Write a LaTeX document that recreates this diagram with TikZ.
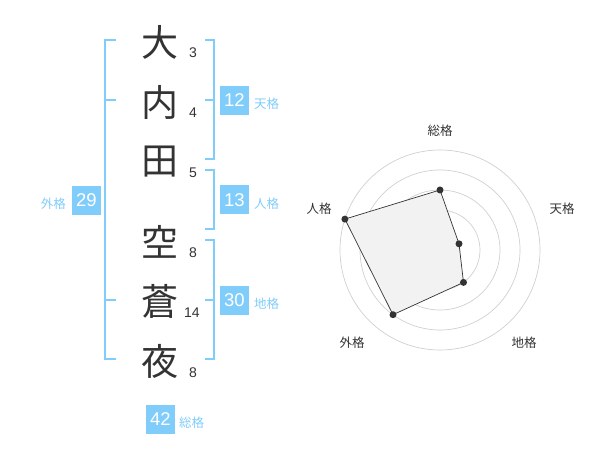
\documentclass[tikz,border=0pt]{standalone}
\usepackage{fontspec}
\setmainfont{Liberation Sans}
\newfontfamily\cjk{Noto Sans CJK JP}
\definecolor{sky}{HTML}{80CCFA}
\definecolor{ink}{HTML}{333333}
\definecolor{ring}{HTML}{D0D0D0}
\begin{document}
\begin{tikzpicture}[x=1pt,y=-1pt,
  kanji/.style={font=\cjk\fontsize{37}{37}\selectfont,text=ink,inner sep=0pt},
  stroke/.style={font=\fontsize{14}{14}\selectfont,text=ink,inner sep=0pt},
  numbox/.style={fill=sky,text=white,minimum width=29pt,minimum height=29pt,inner sep=0pt,font=\fontsize{18.5}{18.5}\selectfont},
  kaku/.style={font=\cjk\fontsize{12.5}{12.5}\selectfont,text=sky,inner sep=0pt},
  brk/.style={draw=sky,line width=1.6pt},
  radlabel/.style={font=\cjk\fontsize{12.5}{12.5}\selectfont,text=ink,inner sep=0pt},
  dotm/.style={circle,fill=ink,inner sep=0pt,minimum size=7pt}]
\useasboundingbox (0,0) rectangle (600,470);
% kanji
\node[kanji] (k1) at (160,42) {大};
\node[kanji] (k2) at (160,102) {内};
\node[kanji] (k3) at (160,162) {田};
\node[kanji] (k4) at (160,242) {空};
\node[kanji] (k5) at (160,301) {蒼};
\node[kanji] (k6) at (160,361) {夜};
% stroke counts
\node[stroke] (s1) at (193,53) {3};
\node[stroke] (s2) at (193,113) {4};
\node[stroke] (s3) at (193,173) {5};
\node[stroke] (s4) at (193,253) {8};
\node[stroke] (s5) at (192,313) {14};
\node[stroke] (s6) at (193,373) {8};
% left bracket (gaikaku)
\coordinate (la) at (105,40);
\coordinate (lb) at (105,359);
\draw[brk] (116,40) -- (la) -- (lb) -- (116,359);
\draw[brk] (105,100) -- (116,100);
\draw[brk] (105,300) -- (116,300);
% right brackets
\draw[brk] (205,40) -- (214,40) -- (214,159) -- (205,159);
\draw[brk] (205,100) -- (214,100);
\draw[brk] (205,170) -- (214,170) -- (214,229) -- (205,229);
\draw[brk] (205,240) -- (214,240) -- (214,359) -- (205,359);
\draw[brk] (205,300) -- (214,300);
% boxes
\node[numbox] (b12) at (234.5,100.5) {12};
\node[kaku,anchor=west] (t12) at (254,104) {天格};
\node[numbox] (b13) at (234.5,200) {13};
\node[kaku,anchor=west] (t13) at (254,203.5) {人格};
\node[numbox] (b30) at (234.5,300.5) {30};
\node[kaku,anchor=west] (t30) at (254,304) {地格};
\node[numbox] (b29) at (86.3,200.5) {29};
\node[kaku,anchor=east] (t29) at (66,204) {外格};
\node[numbox] (b42) at (160.5,419) {42};
\node[kaku,anchor=west] (t42) at (179,423) {総格};
% radar
\coordinate (c) at (440,250);
\foreach \r in {20,40,60,80,100} \draw[ring,line width=0.7pt] (c) circle[radius=\r];
\fill[ring] (c) circle[radius=3.4];
\path (c) ++(0,-60) coordinate (p1);
\path (c) ++(19.0,-6.2) coordinate (p2);
\path (c) ++(23.5,32.4) coordinate (p3);
\path (c) ++(-47.0,64.7) coordinate (p4);
\path (c) ++(-95.1,-30.9) coordinate (p5);
\draw[fill=black!5,draw=ink,line width=0.7pt] (p1) -- (p2) -- (p3) -- (p4) -- (p5) -- cycle;
\foreach \p in {p1,p2,p3,p4,p5} \node[dotm] (d\p) at (\p) {};
\node[radlabel] (r1) at (440,131) {総格};
\node[radlabel] (r2) at (562,209) {天格};
\node[radlabel] (r3) at (524,343) {地格};
\node[radlabel] (r4) at (352,343) {外格};
\node[radlabel] (r5) at (319,209) {人格};
\end{tikzpicture}
\end{document}
